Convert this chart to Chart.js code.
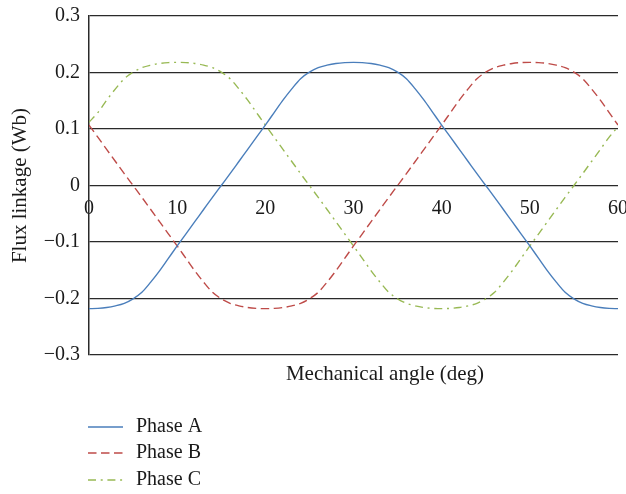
<!DOCTYPE html>
<html>
<head>
<meta charset="utf-8">
<script src="https://cdn.jsdelivr.net/npm/chart.js@4/dist/chart.umd.min.js"></script>
<style>
  html, body { margin: 0; padding: 0; background: #fff; }
  #wrap { width: 626px; height: 494px; }
</style>
</head>
<body>
<div id="wrap"><canvas id="fluxChart" width="626" height="494"></canvas></div>
<script>
// mechanical angle in degrees (0..60, 1 deg step)
const angles = [];
for (let i = 0; i <= 60; i++) angles.push(i);

// flux linkage (Wb)
const phaseA = [-0.218, -0.2175, -0.216, -0.213, -0.2085, -0.2005, -0.189, -0.171, -0.151, -0.129,
  -0.107, -0.0855, -0.064, -0.0425, -0.021, 0, 0.021, 0.0425, 0.064, 0.0855,
  0.107, 0.129, 0.151, 0.171, 0.189, 0.2005, 0.2085, 0.213, 0.216, 0.2175,
  0.218, 0.2175, 0.216, 0.213, 0.2085, 0.2005, 0.189, 0.171, 0.151, 0.129,
  0.107, 0.0855, 0.064, 0.0425, 0.021, 0, -0.021, -0.0425, -0.064, -0.0855,
  -0.107, -0.129, -0.151, -0.171, -0.189, -0.2005, -0.2085, -0.213, -0.216, -0.2175,
  -0.218];
const phaseB = [0.107, 0.0855, 0.064, 0.0425, 0.021, 0, -0.021, -0.0425, -0.064, -0.0855,
  -0.107, -0.129, -0.151, -0.171, -0.189, -0.2005, -0.2085, -0.213, -0.216, -0.2175,
  -0.218, -0.2175, -0.216, -0.213, -0.2085, -0.2005, -0.189, -0.171, -0.151, -0.129,
  -0.107, -0.0855, -0.064, -0.0425, -0.021, 0, 0.021, 0.0425, 0.064, 0.0855,
  0.107, 0.129, 0.151, 0.171, 0.189, 0.2005, 0.2085, 0.213, 0.216, 0.2175,
  0.218, 0.2175, 0.216, 0.213, 0.2085, 0.2005, 0.189, 0.171, 0.151, 0.129,
  0.107];
const phaseC = [0.112, 0.129, 0.151, 0.171, 0.189, 0.2005, 0.2085, 0.213, 0.216, 0.2175,
  0.218, 0.2175, 0.216, 0.213, 0.2085, 0.2005, 0.189, 0.171, 0.151, 0.129,
  0.107, 0.0855, 0.064, 0.0425, 0.021, 0, -0.021, -0.0425, -0.064, -0.0855,
  -0.107, -0.129, -0.151, -0.171, -0.189, -0.2005, -0.2085, -0.213, -0.216, -0.2175,
  -0.218, -0.2175, -0.216, -0.213, -0.2085, -0.2005, -0.189, -0.171, -0.151, -0.129,
  -0.107, -0.0855, -0.064, -0.0425, -0.021, 0, 0.021, 0.0425, 0.064, 0.0855,
  0.104];

const seriesNames = ['Phase A', 'Phase B', 'Phase C'];
const yTicks = [-0.3, -0.2, -0.1, 0, 0.1, 0.2, 0.3];
const xTicks = [0, 10, 20, 30, 40, 50, 60];

const FONT = "'Liberation Serif', 'DejaVu Serif', serif";
const GRID = '#2a2a2a';
const TEXT = '#1a1a1a';

function pts(vals) {
  return vals.map((v, i) => ({ x: angles[i], y: v }));
}

function fmt(v) {
  if (Math.abs(v) < 1e-9) return '0';
  return (v < 0 ? '\u2212' : '') + Math.abs(v).toFixed(1);
}

// x title + legend drawn under the plot
const extras = {
  id: 'extras',
  afterDraw(chart) {
    const ctx = chart.ctx;
    ctx.save();
    ctx.fillStyle = TEXT;
    ctx.font = '21px ' + FONT;
    ctx.textAlign = 'center';
    ctx.textBaseline = 'middle';
    ctx.fillText('Mechanical angle (deg)', 385, 374);

    ctx.font = '20px ' + FONT;
    const rows = [427, 453, 480];
    chart.data.datasets.forEach((ds, i) => {
      const y = rows[i];
      ctx.strokeStyle = ds.borderColor;
      ctx.lineWidth = ds.borderWidth;
      ctx.setLineDash(ds.borderDash || []);
      ctx.beginPath();
      ctx.moveTo(88, y);
      ctx.lineTo(123, y);
      ctx.stroke();
      ctx.setLineDash([]);
      ctx.textAlign = 'left';
      ctx.fillText(ds.label, 136, y);
    });
    ctx.restore();
  }
};

new Chart(document.getElementById('fluxChart'), {
  type: 'line',
  data: {
    datasets: [
      { label: seriesNames[0], data: pts(phaseA), borderColor: '#4a7ebb', borderWidth: 1.4, borderDash: [] },
      { label: seriesNames[1], data: pts(phaseB), borderColor: '#be4b48', borderWidth: 1.4, borderDash: [8.5, 4.5] },
      { label: seriesNames[2], data: pts(phaseC), borderColor: '#98b954', borderWidth: 1.4, borderDash: [8, 4.7, 2, 4.7] }
    ]
  },
  options: {
    responsive: false,
    animation: false,
    layout: { padding: { top: 16, right: 8, bottom: 139, left: 0 } },
    elements: { point: { radius: 0 }, line: { cubicInterpolationMode: 'monotone' } },
    plugins: { legend: { display: false }, tooltip: { enabled: false } },
    scales: {
      x: {
        type: 'linear',
        min: 0,
        max: 60,
        position: { y: 0 },
        afterBuildTicks(scale) { scale.ticks = xTicks.map(v => ({ value: v })); },
        afterFit(scale) { scale.paddingLeft = 0; scale.paddingRight = 0; },
        grid: { display: false },
        border: { display: false },
        ticks: { color: TEXT, font: { family: FONT, size: 20 }, padding: 3, maxRotation: 0 }
      },
      y: {
        min: -0.3,
        max: 0.3,
        afterBuildTicks(scale) { scale.ticks = yTicks.map(v => ({ value: v })); },
        afterFit(scale) { scale.width = 89; scale.paddingTop = 0; scale.paddingBottom = 0; },
        grid: { color: GRID, lineWidth: 1.3, drawTicks: false },
        border: { display: true, color: GRID, width: 1.5 },
        ticks: { color: TEXT, font: { family: FONT, size: 20 }, padding: 9, callback: v => fmt(v) },
        title: {
          display: true,
          text: 'Flux linkage (Wb)',
          color: TEXT,
          font: { family: FONT, size: 21 },
          padding: { top: 8, bottom: 0 }
        }
      }
    }
  },
  plugins: [extras]
});
</script>
</body>
</html>
